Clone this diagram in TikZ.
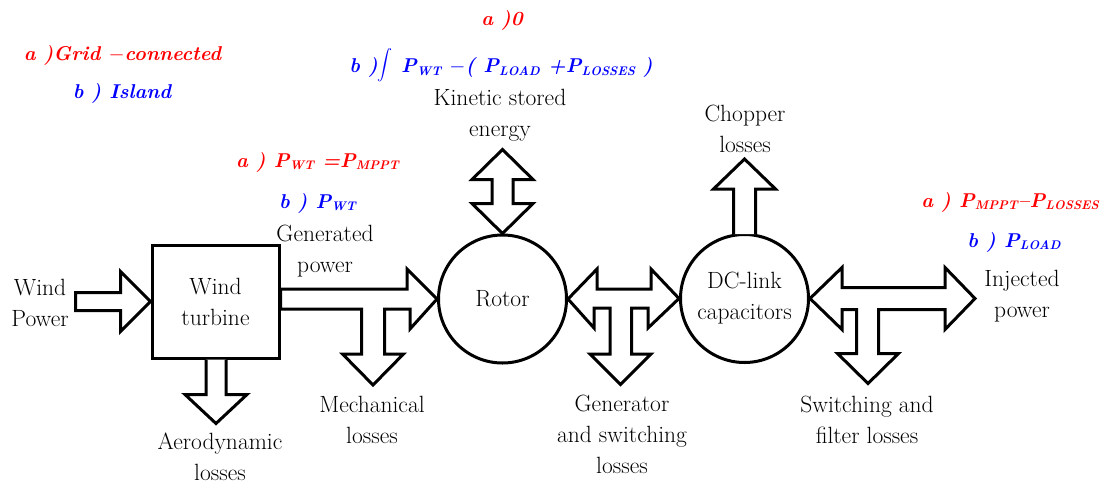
\documentclass[tikz,border=0pt]{standalone}
\usepackage{fontspec}
\usepackage{graphicx}
\usepackage{tikz}
\usetikzlibrary{calc, positioning}
\definecolor{modered}{HTML}{FF0000}
\definecolor{modeblue}{HTML}{0000FF}
\newcommand{\pvar}[1]{P\raisebox{-0.3ex}{\fontsize{12.5}{13}\selectfont #1}}
\newcommand{\bigint}{\scalebox{1.5}{$\displaystyle\int$}}
\tikzset{
  blockarrow/.style={draw, line width=3pt, line join=miter, fill=white},
  blocknode/.style={draw, line width=3pt, align=center, inner sep=0pt},
  lbl/.style={align=center, inner sep=0pt, font=\fontsize{23.5}{31}\selectfont},
  modea/.style={inner sep=0pt, text=modered, font=\fontsize{20}{25}\selectfont\bfseries\itshape},
  modeb/.style={inner sep=0pt, text=modeblue, font=\fontsize{20}{25}\selectfont\bfseries\itshape}
}
\begin{document}
\begin{tikzpicture}[x=1pt, y=-1pt]
  \useasboundingbox (0,0) rectangle (1106,485);

  \node[blocknode, rectangle, minimum width=127pt, minimum height=113pt, lbl] (turbine) at (215.5,301.5) {Wind\\turbine};
  \node[blocknode, circle, minimum size=128pt, lbl] (rotor) at (502.5,299) {Rotor};
  \node[blocknode, circle, minimum size=128pt, lbl] (dclink) at (744.5,298.5) {DC-link\\capacitors};

  \draw[blockarrow] (turbine.west) -- ++(-30,-30) -- ++(0,21) -- ++(-45,0) -- ++(0,18) -- ++(45,0) -- ++(0,21) -- cycle;
  \draw[blockarrow] ([xshift=-9.5pt]turbine.south) -- ++(0,35) -- ++(-21,0) -- ++(31,29) -- ++(31,-29) -- ++(-21,0) -- ++(0,-35);
  \draw[blockarrow] (rotor.west) -- ++(-30,-30) -- ++(0,20) coordinate (gt) -- (gt -| turbine.east) -- ++(0,20) -- ++(81,0) -- ++(0,45) -- ++(-19,0) -- ++(30.5,31) -- ++(30.5,-31) -- ++(-19,0) -- ++(0,-45) -- ++(25.5,0) -- ++(0,20) -- cycle;
  \draw[blockarrow] (rotor.north) -- ++(30.5,-30) -- ++(-20,0) -- ++(0,-24) -- ++(20,0) -- ++(-30.5,-30) -- ++(-30.5,30) -- ++(20,0) -- ++(0,24) -- ++(-20,0) -- cycle;
  \draw[blockarrow] (rotor.east) -- ++(29,-30) -- ++(0,20) -- ++(54,0) -- ++(0,-20) -- (dclink.west) -- ++(-31,29.5) -- ++(0,-20) -- ++(-16.5,0) -- ++(0,46) -- ++(19.5,0) -- ++(-30.5,30.5) -- ++(-30.5,-30.5) -- ++(20,0) -- ++(0,-46) -- ++(-16,0) -- ++(0,20) -- cycle;
  \draw[blockarrow] ([xshift=-11pt, yshift=-1pt]dclink.north) -- ++(0,-45) -- ++(-20,0) -- ++(31,-30) -- ++(31,30) -- ++(-20,0) -- ++(0,45);
  \draw[blockarrow] (dclink.east) -- ++(32,-31) -- ++(0,20) -- ++(103,0) -- ++(0,-20) -- ++(30,31) -- ++(-30,31) -- ++(0,-20) -- ++(-66.5,0) -- ++(0,44) -- ++(20,0) -- ++(-30.5,30) -- ++(-30.5,-30) -- ++(19,0) -- ++(0,-44) -- ++(-14.5,0) -- ++(0,20) -- cycle;

  \node[lbl] (windpower) at (40,303) {Wind\\Power};
  \node[lbl] (aerolosses) at (220,457) {Aerodynamic\\losses};
  \node[lbl] (genpower) at (325,251) {Generated\\power};
  \node[lbl] (mechlosses) at (372,420) {Mechanical\\losses};
  \node[lbl] (kinetic) at (500,115) {Kinetic stored\\energy};
  \node[lbl] (genlosses) at (622,434) {Generator\\and switching\\losses};
  \node[lbl] (chopper) at (745,129) {Chopper\\losses};
  \node[lbl] (filterlosses) at (867,420) {Switching and\\filter losses};
  \node[lbl] (injected) at (1022,296) {Injected\\power};

  \node[modea] (gridmode) at (122.5,55) {a )Grid $-$connected};
  \node[modeb] (islandmode) at (122,93) {b ) Island};
  \node[modea] (kinzero) at (502,20) {a )0};
  \node[modeb] (kinint) at (501,65) {b )\bigint\ \pvar{WT} $-$( \pvar{LOAD} +\pvar{LOSSES} )};
  \node[modea] (genmppt) at (317.5,162) {a ) \pvar{WT} =\pvar{MPPT}};
  \node[modeb] (genwt) at (317.5,203) {b ) \pvar{WT}};
  \node[modea] (injmppt) at (1010,202) {a ) \pvar{MPPT}--\pvar{LOSSES}};
  \node[modeb] (injload) at (1014,242) {b ) \pvar{LOAD}};
\end{tikzpicture}
\end{document}
